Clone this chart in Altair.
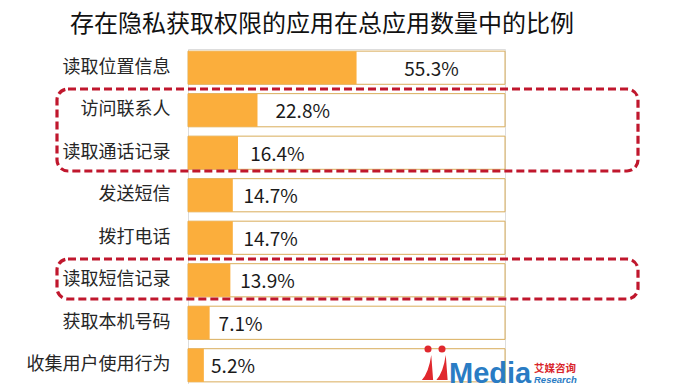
import altair as alt
import pandas as pd

categories = ["读取位置信息", "访问联系人", "读取通话记录", "发送短信",
              "拨打电话", "读取短信记录", "获取本机号码", "收集用户使用行为"]
values = [55.3, 22.8, 16.4, 14.7, 14.7, 13.9, 7.1, 5.2]
labels = ["55.3%", "22.8%", "16.4%", "14.7%", "14.7%", "13.9%", "7.1%", "5.2%"]
TRACK_MAX = 104

title_text = "存在隐私获取权限的应用在总应用数量中的比例"

df = pd.DataFrame({"cat": categories, "v": values, "label": labels})
df["track"] = TRACK_MAX

FONT = "Noto Sans CJK SC"
LATIN = "Liberation Sans"
W, H = 317, 335

xs = alt.Scale(domain=[0, TRACK_MAX], nice=False, zero=True)
ys = alt.Scale(domain=categories, paddingInner=0.22, paddingOuter=0.05)

y_enc = alt.Y("cat:N", scale=ys, sort=categories,
              axis=alt.Axis(title=None, ticks=False, domain=False,
                            labelFont=FONT, labelFontSize=18,
                            labelColor="#262626", labelPadding=18,
                            labelLimit=300))

base = alt.Chart(df)

track = base.mark_bar(color="white", stroke="#D9AD5B", strokeWidth=1).encode(
    x=alt.X("track:Q", scale=xs, axis=None),
    y=y_enc,
)

fill = base.mark_bar(color="#FBAE3C").encode(
    x=alt.X("v:Q", scale=xs, axis=None),
    y=alt.Y("cat:N", scale=ys, sort=categories),
)

text = base.transform_calculate(
    lx="datum.v * 1.3 + 8"
).mark_text(font=FONT, fontSize=19, color="#1a1a1a", align="center",
            baseline="middle", dy=2).encode(
    x=alt.X("lx:Q", scale=xs),
    y=alt.Y("cat:N", scale=ys, sort=categories),
    text="label:N",
)

# red dashed highlight frames
frame_df = pd.DataFrame({"k": [0]})
frame_style = dict(fill=None, filled=False, stroke="#C0172D", strokeWidth=3.2,
                   strokeDash=[8, 4], cornerRadius=11)
frame1 = alt.Chart(frame_df).mark_rect(**frame_style).encode(
    x=alt.value(-131), x2=alt.value(450), y=alt.value(40), y2=alt.value(122))
frame2 = alt.Chart(frame_df).mark_rect(**frame_style).encode(
    x=alt.value(-131), x2=alt.value(450), y=alt.value(210), y2=alt.value(250))

# logo
logo_media = alt.Chart(frame_df).mark_text(
    text="Media", font=LATIN, fontWeight="bold", fontSize=29,
    color="#2A7CC4", align="left", baseline="alphabetic").encode(
    x=alt.value(261), y=alt.value(334))
logo_cn = alt.Chart(frame_df).mark_text(
    text="艾媒咨询", font=FONT, fontWeight="bold", fontSize=10.5,
    color="#D9262C", align="left", baseline="alphabetic").encode(
    x=alt.value(346), y=alt.value(323))
logo_en = alt.Chart(frame_df).mark_text(
    text="Research", font=LATIN, fontWeight="bold", fontStyle="italic",
    fontSize=9.5, color="#2A7CC4", align="left", baseline="alphabetic").encode(
    x=alt.value(346), y=alt.value(334))
heads = alt.Chart(pd.DataFrame({"px": [240, 254]})).mark_point(
    shape="circle", filled=True, color="#E0282E", size=50, opacity=1).encode(
    x=alt.X("px:Q", scale=None), y=alt.value(300))
bodies = alt.Chart(pd.DataFrame({"px": [239.5, 254]})).mark_point(
    shape="M0.3,-1 L0.45,1 L-0.45,1 Q0.1,0.4 0.3,-1 Z", filled=True,
    color="#E0282E", size=625, opacity=1, strokeWidth=0).encode(
    x=alt.X("px:Q", scale=None), y=alt.value(318.5))

chart = alt.layer(track, fill, text, frame1, frame2, heads, bodies,
                  logo_media, logo_cn, logo_en).properties(
    width=W, height=H,
    title=alt.Title(title_text, font=FONT, fontSize=24, fontWeight="normal",
                    color="#111111", anchor="start", frame="group",
                    dx=-118, offset=12),
    autosize=alt.AutoSizeParams(type="none"),
    padding={"left": 180, "top": 41, "right": 165, "bottom": 0},
).configure_view(stroke=None).configure(background="white")

chart.save("out.html", embed_options={"renderer": "svg", "actions": False})
